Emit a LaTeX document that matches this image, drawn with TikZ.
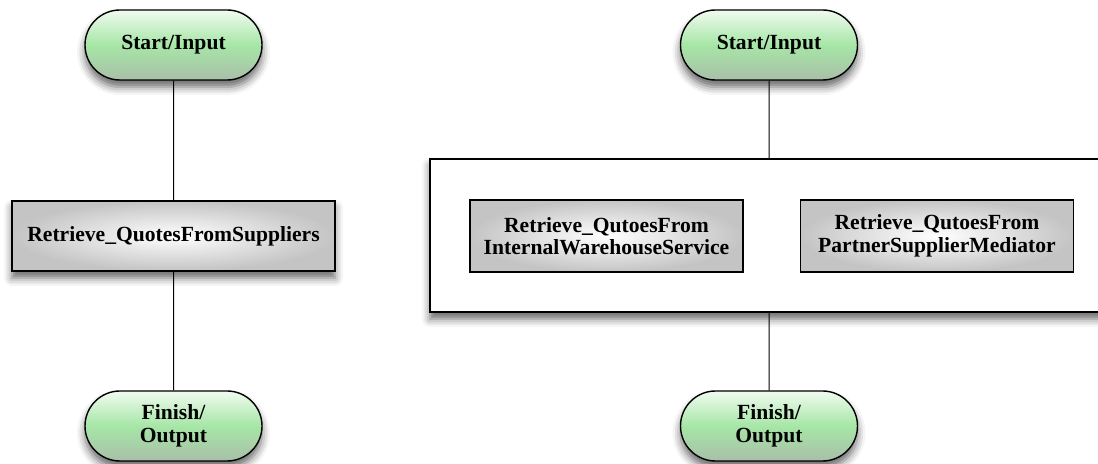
\documentclass[tikz,border=0pt]{standalone}
\usepackage{fontspec}
\setmainfont{Liberation Serif}
\usepackage{xcolor}
\usepackage{tikz}
\usetikzlibrary{shapes.misc,shadows.blur}

\definecolor{pilltop}{HTML}{F0FBF0}
\definecolor{pillmid}{HTML}{A6E6A6}
\definecolor{pillbot}{HTML}{A9BFA9}
\definecolor{boxout}{HTML}{C4C4C4}

\tikzset{
	every node/.style={font=\bfseries\fontsize{10.8}{11.2}\selectfont, align=center, inner sep=0pt},
	soft/.style={blur shadow={shadow xshift=0pt, shadow yshift=-3.5pt, shadow blur radius=4pt, shadow opacity=60}},
	pill/.style={rounded rectangle, draw, line width=0.7pt, soft, minimum width=88.5pt, minimum height=35pt,
		top color=pilltop, bottom color=pillbot, middle color=pillmid},
	taskbox/.style={rectangle, draw, line width=0.7pt, inner color=white, outer color=boxout},
	flowbox/.style={rectangle, draw, line width=0.7pt, fill=white, soft, minimum width=345pt, minimum height=76.5pt},
	link/.style={line width=0.5pt}
}

\begin{document}
\begin{tikzpicture}[x=0.5pt,y=-0.5pt]
	\useasboundingbox (0,0) rectangle (1098,464);
	\clip (0,0) rectangle (1098,464);
	% left: single service
	\node[pill] (s1) at (173.5,45) {Start/Input};
	\node[taskbox, soft, minimum width=161.5pt, minimum height=35pt] (t1) at (173.5,236) {Retrieve\_QuotesFromSuppliers};
	\node[pill] (f1) at (173.5,426) {Finish/\\Output};
	\draw[link] (s1) -- (t1);
	\draw[link] (t1) -- (f1);
	% right: two services in one block
	\node[pill] (s2) at (769,45) {Start/Input};
	\node[flowbox] (blk) at (775,235.5) {};
	\node[taskbox, minimum width=136.5pt, minimum height=36pt] (t2) at (606.5,236) {Retrieve\_QutoesFrom\\InternalWarehouseService};
	\node[taskbox, minimum width=136.5pt, minimum height=36pt] (t3) at (937,236) {Retrieve\_QutoesFrom\\PartnerSupplierMediator};
	\node[pill] (f2) at (769,426) {Finish/\\Output};
	\draw[link] (s2) -- (s2 |- blk.north);
	\draw[link] (f2 |- blk.south) -- (f2);
\end{tikzpicture}
\end{document}
